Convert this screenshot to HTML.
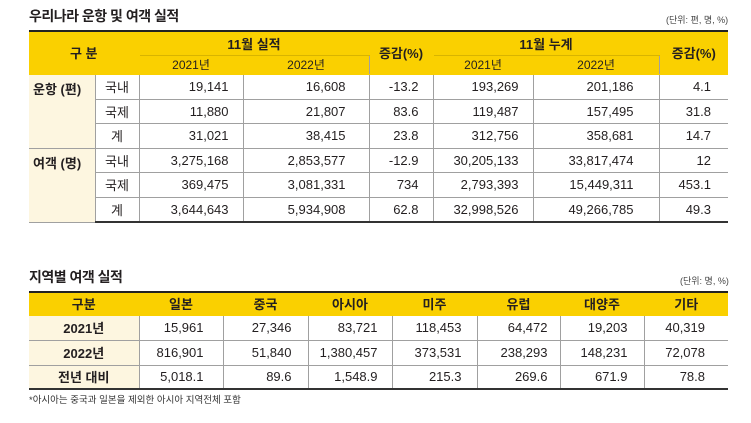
<!DOCTYPE html>
<html><head><meta charset="utf-8">
<style>
body{margin:0;width:751px;height:423px;background:#fff;position:relative;overflow:hidden;font-family:"Liberation Sans","Noto Sans CJK KR",sans-serif;color:#231f20}
.t{position:absolute;font-weight:bold;font-size:14px;letter-spacing:-0.5px}
.u{position:absolute;font-size:9px;color:#444}
table{position:absolute;border-collapse:collapse;table-layout:fixed;font-size:13px}
td,th{padding:0;border:1px solid #a0a0a0;white-space:nowrap}
th{background:#fad000;font-weight:bold;text-align:center;font-size:13px}
th.s{font-weight:normal;font-size:12px}
td{text-align:right;padding-right:16px}
td.g{background:#fdf6e0;text-align:left;vertical-align:top;padding:4px 0 0 4px;font-weight:bold;border-right:1px solid #a0a0a0}
td.c{text-align:center;padding-right:0}
td.f{background:#fdf6e0;text-align:center;padding:0;font-weight:bold}
table tr:first-child th{border-top:2px solid #222}
tr.last td{border-bottom:2px solid #333}
th{border-color:#fad000}
th.bl{border-left:1px solid #a0a0a0}
tr td:first-child,tr th:first-child{border-left:none}
tr td:last-child,tr th:last-child{border-right:none}
</style></head><body>
<div class="t" style="left:29px;top:6px">우리나라 운항 및 여객 실적</div>
<div class="u" style="left:666px;top:13px">(단위: 편, 명, %)</div>
<table style="left:29px;top:30px;width:699px">
<colgroup><col style="width:66px"><col style="width:44px"><col style="width:104px"><col style="width:126px"><col style="width:64px"><col style="width:100px"><col style="width:126px"><col style="width:69px"></colgroup>
<tr style="height:24px"><th colspan="2" rowspan="2">구 분</th><th colspan="2" class="bl" style="border-bottom:1px solid #d8b400">11월 실적</th><th rowspan="2" class="bl">증감(%)</th><th colspan="2" class="bl" style="border-bottom:1px solid #d8b400">11월 누계</th><th rowspan="2" class="bl">증감(%)</th></tr>
<tr style="height:19px"><th class="s bl">2021년</th><th class="s bl">2022년</th><th class="s bl">2021년</th><th class="s bl">2022년</th></tr>
<tr style="height:25px"><td class="g" rowspan="3">운항 (편)</td><td class="c">국내</td><td style="padding-right:14px">19,141</td><td style="padding-right:23px">16,608</td><td style="padding-right:14px">-13.2</td><td style="padding-right:14px">193,269</td><td style="padding-right:25px">201,186</td><td style="padding-right:17px">4.1</td></tr>
<tr style="height:24px"><td class="c">국제</td><td style="padding-right:14px">11,880</td><td style="padding-right:23px">21,807</td><td style="padding-right:14px">83.6</td><td style="padding-right:14px">119,487</td><td style="padding-right:25px">157,495</td><td style="padding-right:17px">31.8</td></tr>
<tr style="height:25px"><td class="c">계</td><td style="padding-right:14px">31,021</td><td style="padding-right:23px">38,415</td><td style="padding-right:14px">23.8</td><td style="padding-right:14px">312,756</td><td style="padding-right:25px">358,681</td><td style="padding-right:17px">14.7</td></tr>
<tr style="height:24px"><td class="g" rowspan="3">여객 (명)</td><td class="c">국내</td><td style="padding-right:14px">3,275,168</td><td style="padding-right:23px">2,853,577</td><td style="padding-right:14px">-12.9</td><td style="padding-right:14px">30,205,133</td><td style="padding-right:25px">33,817,474</td><td style="padding-right:17px">12</td></tr>
<tr style="height:25px"><td class="c">국제</td><td style="padding-right:14px">369,475</td><td style="padding-right:23px">3,081,331</td><td style="padding-right:14px">734</td><td style="padding-right:14px">2,793,393</td><td style="padding-right:25px">15,449,311</td><td style="padding-right:17px">453.1</td></tr>
<tr style="height:25px" class="last"><td class="c">계</td><td style="padding-right:14px">3,644,643</td><td style="padding-right:23px">5,934,908</td><td style="padding-right:14px">62.8</td><td style="padding-right:14px">32,998,526</td><td style="padding-right:25px">49,266,785</td><td style="padding-right:17px">49.3</td></tr>
</table>

<div class="t" style="left:29px;top:267px">지역별 여객 실적</div>
<div class="u" style="left:680px;top:274px">(단위: 명, %)</div>
<table style="left:29px;top:291px;width:699px">
<colgroup><col style="width:110px"><col style="width:84px"><col style="width:85px"><col style="width:84px"><col style="width:85px"><col style="width:83px"><col style="width:84px"><col style="width:84px"></colgroup>
<tr style="height:23px"><th>구분</th><th class="bl">일본</th><th class="bl">중국</th><th class="bl">아시아</th><th class="bl">미주</th><th class="bl">유럽</th><th class="bl">대양주</th><th class="bl">기타</th></tr>
<tr style="height:25px"><td class="f">2021년</td><td style="padding-right:19px">15,961</td><td>27,346</td><td style="padding-right:14px">83,721</td><td style="padding-right:15px">118,453</td><td style="padding-right:12px">64,472</td><td>19,203</td><td style="padding-right:23px">40,319</td></tr>
<tr style="height:25px"><td class="f">2022년</td><td style="padding-right:19px">816,901</td><td>51,840</td><td style="padding-right:14px">1,380,457</td><td style="padding-right:15px">373,531</td><td style="padding-right:12px">238,293</td><td>148,231</td><td style="padding-right:23px">72,078</td></tr>
<tr style="height:24px" class="last"><td class="f">전년 대비</td><td style="padding-right:19px">5,018.1</td><td>89.6</td><td style="padding-right:14px">1,548.9</td><td style="padding-right:15px">215.3</td><td style="padding-right:12px">269.6</td><td>671.9</td><td style="padding-right:23px">78.8</td></tr>
</table>
<div class="u" style="left:29px;top:392px;font-size:9.5px;color:#333">*아시아는 중국과 일본을 제외한 아시아 지역전체 포함</div>
</body></html>
